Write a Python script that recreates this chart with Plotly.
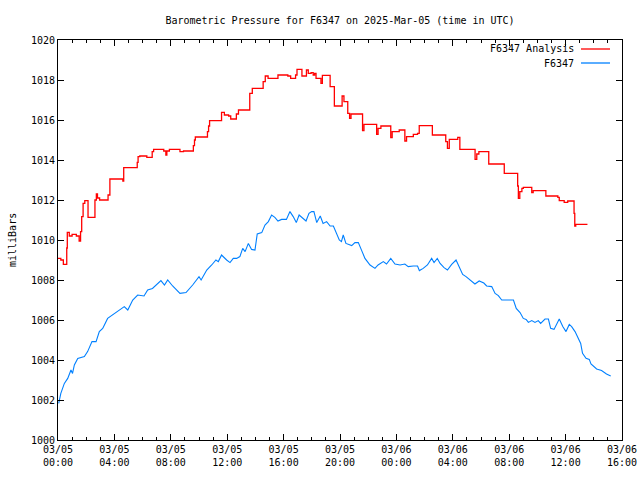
import pandas as pd
import plotly.graph_objects as go

# ---- data (hours after 2025-03-05 00:00 UTC, pressure in mbar) ----
analysis_hours = [0.0, 0.2, 0.38, 0.62, 0.66, 0.8, 1.0, 1.3, 1.5, 1.6, 1.68, 1.78, 1.9, 2.13, 2.62, 2.72, 2.8, 2.95,
                  3.55, 3.68, 4.6, 4.66, 5.62, 5.68, 5.8, 6.3, 6.68, 6.78, 7.5, 7.65, 7.72, 7.9, 8.65, 8.9, 9.6, 9.68,
                  9.74, 10.6, 10.68, 10.75, 11.6, 11.8, 12.1, 12.25, 12.65, 12.8, 13.6, 13.78, 14.55, 14.7, 14.9, 15.6,
                  16.3, 16.5, 16.85, 16.95, 17.3, 17.62, 17.75, 17.95, 18.1, 18.2, 18.3, 18.65, 18.75, 19.3, 19.6,
                  20.15, 20.28, 20.55, 20.68, 20.78, 21.6, 21.7, 22.6, 22.7, 22.9, 23.6, 23.7, 24.2, 24.6, 24.72,
                  25.2, 25.5, 25.62, 26.55, 27.5, 27.62, 27.75, 28.35, 28.5, 29.58, 29.7, 29.85, 30.55, 31.65, 32.6,
                  32.65, 32.75, 32.9, 33.0, 33.6, 33.7, 34.6, 35.45, 35.55, 35.9, 36.15, 36.6, 36.65, 36.72, 37.55]
analysis_mbar = [1009.08, 1009.0, 1008.78, 1009.6, 1010.38, 1010.2, 1010.28, 1010.2, 1009.95, 1010.42, 1011.17,
                 1011.83, 1011.97, 1011.13, 1012.0, 1012.3, 1012.1, 1012.0, 1012.25, 1013.05, 1012.95, 1013.62,
                 1013.88, 1014.17, 1014.2, 1014.13, 1014.42, 1014.53, 1014.45, 1014.25, 1014.45, 1014.53, 1014.42,
                 1014.45, 1014.72, 1015.0, 1015.15, 1015.42, 1015.7, 1015.97, 1016.38, 1016.25, 1016.2, 1016.05,
                 1016.3, 1016.5, 1017.33, 1017.58, 1017.92, 1018.2, 1018.08, 1018.25, 1018.2, 1018.08, 1018.25,
                 1018.53, 1018.2, 1018.5, 1018.33, 1018.37, 1018.25, 1018.33, 1018.08, 1017.83, 1018.23, 1017.67,
                 1016.7, 1017.2, 1016.92, 1016.33, 1016.08, 1016.3, 1015.47, 1015.78, 1015.28, 1015.58, 1015.7,
                 1015.12, 1015.42, 1015.5, 1014.95, 1015.17, 1015.28, 1015.33, 1015.72, 1015.25, 1014.92, 1014.58,
                 1015.03, 1015.13, 1014.53, 1014.03, 1014.3, 1014.42, 1013.8, 1013.33, 1012.7, 1012.08, 1012.42,
                 1012.58, 1012.63, 1012.37, 1012.47, 1012.2, 1012.13, 1011.97, 1011.88, 1011.95, 1011.33, 1010.7,
                 1010.78, 1010.78]

station_hours = [0.05, 0.2, 0.45, 0.69, 0.92, 1.03, 1.16, 1.4, 1.87, 2.1, 2.41, 2.7, 2.93, 3.17, 3.52, 3.88, 4.0,
                 4.35, 4.7, 4.95, 5.3, 5.65, 6.1, 6.36, 6.7, 7.3, 7.55, 7.78, 8.13, 8.65, 9.08, 9.55, 10.0, 10.15,
                 10.55, 10.9, 11.2, 11.37, 11.6, 11.96, 12.2, 12.43, 12.67, 12.9, 13.1, 13.27, 13.5, 13.73, 13.97,
                 14.13, 14.45, 14.68, 14.92, 15.15, 15.38, 15.6, 15.86, 16.2, 16.45, 16.68, 16.9, 17.1, 17.4, 17.59,
                 17.8, 17.99, 18.15, 18.35, 18.6, 18.8, 19.05, 19.3, 19.53, 19.77, 19.95, 20.1, 20.23, 20.42, 20.83,
                 21.06, 21.3, 21.54, 21.77, 22.13, 22.48, 22.7, 23.07, 23.3, 23.6, 23.9, 24.26, 24.6, 24.84, 25.2,
                 25.5, 25.63, 25.9, 26.2, 26.5, 26.67, 26.9, 27.1, 27.38, 27.62, 27.92, 28.23, 28.46, 28.7, 28.94,
                 29.22, 29.57, 29.87, 30.2, 30.4, 30.76, 31.0, 31.23, 31.47, 32.3, 32.5, 32.77, 33.0, 33.2, 33.36,
                 33.6, 33.83, 34.06, 34.23, 34.54, 34.78, 34.94, 35.18, 35.37, 35.55, 35.8, 36.03, 36.26, 36.43,
                 36.67, 36.9, 37.07, 37.2, 37.45, 37.68, 37.8, 38.2, 38.55, 38.9, 39.2]
station_mbar = [1001.83, 1002.33, 1002.83, 1003.08, 1003.5, 1003.33, 1003.75, 1004.08, 1004.17, 1004.42, 1004.92,
                1004.92, 1005.42, 1005.58, 1006.08, 1006.25, 1006.33, 1006.5, 1006.67, 1006.5, 1007.0, 1007.25,
                1007.2, 1007.5, 1007.58, 1007.97, 1007.75, 1008.0, 1007.7, 1007.33, 1007.37, 1007.75, 1008.17,
                1008.0, 1008.5, 1008.75, 1009.0, 1008.92, 1009.25, 1009.0, 1008.87, 1009.08, 1009.08, 1009.17,
                1009.58, 1009.42, 1009.83, 1009.53, 1009.5, 1010.3, 1010.37, 1010.75, 1010.92, 1011.25, 1011.13,
                1010.95, 1011.03, 1011.03, 1011.42, 1011.17, 1010.87, 1011.25, 1011.08, 1010.95, 1011.33, 1011.42,
                1011.42, 1010.87, 1011.2, 1010.83, 1010.92, 1010.7, 1010.7, 1010.33, 1010.0, 1009.92, 1010.25,
                1009.83, 1009.72, 1009.87, 1009.87, 1009.47, 1009.08, 1008.75, 1008.58, 1008.75, 1008.92, 1008.8,
                1009.08, 1008.8, 1008.75, 1008.8, 1008.67, 1008.7, 1008.7, 1008.47, 1008.58, 1008.75, 1009.08,
                1008.87, 1009.08, 1008.83, 1008.62, 1008.5, 1008.78, 1009.0, 1008.67, 1008.28, 1008.17, 1008.0,
                1007.8, 1007.95, 1007.85, 1007.7, 1007.67, 1007.33, 1007.22, 1007.0, 1007.0, 1006.58, 1006.37,
                1006.08, 1006.03, 1005.88, 1005.97, 1005.88, 1005.97, 1005.83, 1006.05, 1006.05, 1005.58, 1005.53,
                1005.83, 1006.05, 1005.67, 1005.42, 1005.78, 1005.67, 1005.42, 1005.08, 1004.83, 1004.33, 1004.08,
                1004.03, 1003.8, 1003.55, 1003.47, 1003.3, 1003.2]

tick_times = ["2025-03-05 00:00", "2025-03-05 04:00", "2025-03-05 08:00", "2025-03-05 12:00",
              "2025-03-05 16:00", "2025-03-05 20:00", "2025-03-06 00:00", "2025-03-06 04:00",
              "2025-03-06 08:00", "2025-03-06 12:00", "2025-03-06 16:00"]
tick_labels = ["03/05<br>00:00", "03/05<br>04:00", "03/05<br>08:00", "03/05<br>12:00", "03/05<br>16:00",
               "03/05<br>20:00", "03/06<br>00:00", "03/06<br>04:00", "03/06<br>08:00", "03/06<br>12:00",
               "03/06<br>16:00"]
y_ticks = [1000, 1002, 1004, 1006, 1008, 1010, 1012, 1014, 1016, 1018, 1020]
series_names = ["F6347 Analysis", "F6347"]
series_colors = ["#ff0000", "#0080ff"]

base = pd.Timestamp("2025-03-05 00:00")
ax_t = base + pd.to_timedelta(analysis_hours, unit="h")
st_t = base + pd.to_timedelta(station_hours, unit="h")

FONT = "DejaVu Sans Mono"

fig = go.Figure()
fig.add_trace(go.Scatter(x=ax_t, y=analysis_mbar, mode="lines", name=series_names[0],
                         line=dict(color=series_colors[0], width=1.3, shape="hv")))
fig.add_trace(go.Scatter(x=st_t, y=station_mbar, mode="lines", name=series_names[1],
                         line=dict(color=series_colors[1], width=1.1)))

axis_common = dict(showline=True, linecolor="black", linewidth=1, mirror="allticks", ticks="inside",
                   tickcolor="black", ticklen=6, tickwidth=1, showgrid=False, zeroline=False,
                   automargin=False,
                   tickfont=dict(family=FONT, size=10, color="black"))

fig.update_layout(
    width=640, height=480,
    margin=dict(l=58, r=18, t=40, b=40, autoexpand=False),
    paper_bgcolor="white", plot_bgcolor="white",
    showlegend=False,
    title=dict(text="Barometric Pressure for F6347 on 2025-Mar-05 (time in UTC)",
               font=dict(family=FONT, size=10, color="black"),
               x=0.5, xref="paper", xanchor="center", y=1 - 20 / 480, yanchor="middle"),
    xaxis=dict(range=["2025-03-05 00:00", "2025-03-06 16:00"], tickmode="array",
               tickvals=tick_times, ticktext=tick_labels,
               minor=dict(tickmode="linear", tick0="2025-03-05 00:00", dtick=3600000, ticks="inside",
                          ticklen=3, tickcolor="black", showgrid=False),
               **axis_common),
    yaxis=dict(range=[1000, 1020], tickmode="array", tickvals=y_ticks,
               ticktext=[str(v) for v in y_ticks], **axis_common),
)

# y-axis label
fig.add_annotation(text="milliBars", xref="paper", yref="paper", x=(12 - 58) / 564, y=0.5,
                   textangle=-90, showarrow=False, xanchor="center", yanchor="middle",
                   font=dict(family=FONT, size=10, color="black"))

# gnuplot-style key: text then line sample
key_rows = [1 - 9 / 400, 1 - 23 / 400]
for name, color, yk in zip(series_names, series_colors, key_rows):
    fig.add_annotation(text=name, xref="paper", yref="paper", x=(576 - 58) / 564, y=yk,
                       showarrow=False, xanchor="right", yanchor="middle",
                       font=dict(family=FONT, size=10, color="black"))
    fig.add_shape(type="line", xref="paper", yref="paper", x0=(581 - 58) / 564, x1=(610 - 58) / 564,
                  y0=yk, y1=yk, line=dict(color=color, width=1.3))

fig.write_html("out.html")
